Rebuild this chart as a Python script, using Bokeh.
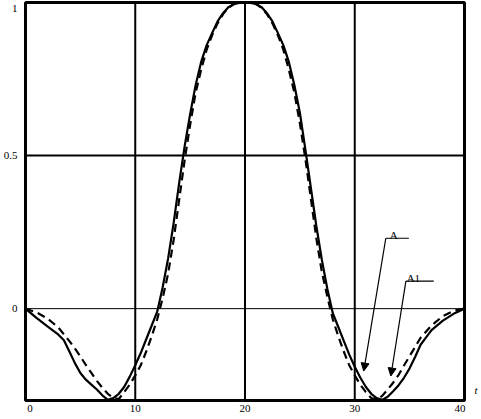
from bokeh.plotting import figure
from bokeh.models import Range1d, Span, Label, Arrow, NormalHead, FixedTicker, LinearAxis
from bokeh.embed import file_html
from bokeh.resources import INLINE

# Solid curve (A)
t_solid = [0, 1, 2, 3, 3.5, 4, 4.5, 5, 5.5, 6, 6.5, 7, 7.5, 8, 8.5, 9, 9.5, 10, 10.5, 11, 11.5, 12,
           12.5, 13, 13.5, 14, 14.5, 15, 15.5, 16, 16.5, 17, 17.5, 18, 18.5, 19, 19.5, 20,
           20.5, 21, 21.5, 22, 22.5, 23, 23.5, 24, 24.5, 25, 25.5, 26, 26.5, 27, 27.5, 28,
           28.5, 29, 29.5, 30, 30.5, 31, 31.5, 32, 32.5, 33, 33.5, 34, 34.5, 35, 35.5, 36,
           36.5, 37, 38, 39, 40]
v_solid = [0, -0.03, -0.058, -0.085, -0.103, -0.14, -0.178, -0.21, -0.232, -0.248, -0.264, -0.283,
           -0.298, -0.292, -0.278, -0.255, -0.222, -0.185, -0.145, -0.1, -0.055, -0.01,
           0.07, 0.165, 0.28, 0.41, 0.53, 0.635, 0.73, 0.805, 0.86, 0.9, 0.938, 0.965, 0.985, 0.995,
           0.999, 1.0,
           0.999, 0.995, 0.985, 0.965, 0.938, 0.9, 0.86, 0.805, 0.73, 0.64, 0.52, 0.395, 0.27,
           0.16, 0.065, -0.015, -0.06, -0.105, -0.15, -0.19, -0.225, -0.255, -0.278, -0.292,
           -0.298, -0.288, -0.27, -0.25, -0.225, -0.195, -0.158, -0.118, -0.094, -0.07, -0.04,
           -0.017, 0]

# Dashed curve (A1)
t_dash = [0, 1, 2, 3, 4, 4.5, 5, 5.5, 6, 6.5, 7, 7.5, 8, 8.5, 9, 9.5, 10, 10.5, 11, 11.5, 12,
          12.5, 13, 13.5, 14, 14.5, 15, 15.5, 16, 16.5, 17, 17.5, 18, 18.5, 19, 19.5, 20,
          20.5, 21, 21.5, 22, 22.5, 23, 23.5, 24, 24.5, 25, 25.5, 26, 26.5, 27, 27.5, 28,
          28.5, 29, 29.5, 30, 30.5, 31, 31.5, 32, 32.5, 33, 33.5, 34, 34.5, 35, 35.5, 36,
          37, 38, 39, 40]
v_dash = [0, -0.012, -0.032, -0.062, -0.106, -0.13, -0.156, -0.184, -0.21, -0.236, -0.258, -0.278,
          -0.292, -0.295, -0.272, -0.248, -0.218, -0.185, -0.14, -0.09, -0.035,
          0.035, 0.115, 0.225, 0.355, 0.485, 0.6, 0.705, 0.78, 0.845, 0.893, 0.932, 0.962, 0.983,
          0.995, 0.999, 1.0,
          0.999, 0.995, 0.983, 0.962, 0.932, 0.893, 0.845, 0.78, 0.705, 0.605, 0.49, 0.36, 0.23,
          0.12, 0.04, -0.035, -0.09, -0.14, -0.185, -0.218, -0.248, -0.272, -0.292, -0.297,
          -0.285, -0.264, -0.242, -0.216, -0.185, -0.155, -0.125, -0.095, -0.055, -0.025,
          -0.007, 0]

x_ticks = [0, 10, 20, 30, 40]
x_tick_labels = ["0", "10", "20", "30", "40"]
y_ticks = [0, 0.5, 1]
y_tick_labels = ["0", "0.5", "1"]
x_grid = [10, 20, 30]
y_grid = [0.5, 0]
y_grid_w = [2, 1]
axis_name = "t"
axis_name_y = -0.265

X_MIN, X_MAX = 0, 40
Y_MIN, Y_MAX = -0.3, 1.0
p = figure(width=481, height=419, output_backend="svg", toolbar_location=None,
           x_range=Range1d(X_MIN, X_MAX), y_range=Range1d(Y_MIN, Y_MAX),
           min_border_left=24, min_border_right=17, min_border_top=2, min_border_bottom=19)
p.xgrid.visible = False
p.ygrid.visible = False
p.outline_line_color = "black"
p.outline_line_width = 3
p.background_fill_color = "white"
p.border_fill_color = "white"


def style_axis(ax):
    ax.axis_line_color = None
    ax.major_tick_line_color = None
    ax.minor_tick_line_color = None
    ax.major_tick_out = 0
    ax.major_tick_in = 0
    ax.minor_tick_out = 0
    ax.major_label_text_font = "Liberation Serif"
    ax.major_label_text_font_size = "11px"
    ax.major_label_text_color = "black"


style_axis(p.xaxis[0])
style_axis(p.yaxis[0])

# end labels sit slightly inside the frame corners, as in the original
x_label_pos = [min(max(v, X_MIN + 0.4), X_MAX - 0.4) for v in x_ticks]
p.xaxis[0].ticker = FixedTicker(ticks=x_label_pos)
p.xaxis[0].major_label_overrides = {pos: txt for pos, txt in zip(x_label_pos, x_tick_labels)}
p.xaxis[0].major_label_standoff = 4

label_pos = [min(v, Y_MAX - 0.02) for v in y_ticks]
p.yaxis[0].ticker = FixedTicker(ticks=label_pos)
p.yaxis[0].major_label_overrides = {pos: txt for pos, txt in zip(label_pos, y_tick_labels)}
p.yaxis[0].major_label_standoff = 8

# axis name "t" placed to the right of the frame
raxis = LinearAxis(ticker=FixedTicker(ticks=[axis_name_y]),
                   major_label_overrides={axis_name_y: axis_name})
style_axis(raxis)
raxis.major_label_text_font_style = "italic"
raxis.major_label_standoff = 10
p.add_layout(raxis, "right")

for gx in x_grid:
    p.add_layout(Span(location=gx, dimension="height", line_color="black", line_width=2))
for gy, w in zip(y_grid, y_grid_w):
    p.add_layout(Span(location=gy, dimension="width", line_color="black", line_width=w))

p.line(t_solid, v_solid, line_color="black", line_width=2.2)
p.line(t_dash, v_dash, line_color="black", line_width=2.2, line_dash="8 5")

# annotations
p.add_layout(Label(x=33.56, y=0.24, text="A", text_font="Liberation Serif", text_font_size="11px",
                   text_align="center", text_baseline="alphabetic", text_color="black"))
p.line([32.83, 34.93], [0.23, 0.23], line_color="black", line_width=1.2)
p.add_layout(Arrow(x_start=32.83, y_start=0.23, x_end=30.82, y_end=-0.204, line_width=1.2,
                   end=NormalHead(size=8, fill_color="black", line_color="black")))

p.add_layout(Label(x=35.34, y=0.101, text="A1", text_font="Liberation Serif", text_font_size="11px",
                   text_align="center", text_baseline="alphabetic", text_color="black"))
p.line([34.66, 37.2], [0.09, 0.09], line_color="black", line_width=1.2)
p.add_layout(Arrow(x_start=34.66, y_start=0.09, x_end=33.29, y_end=-0.22, line_width=1.2,
                   end=NormalHead(size=8, fill_color="black", line_color="black")))

open("out.html", "w").write(file_html(p, INLINE))
